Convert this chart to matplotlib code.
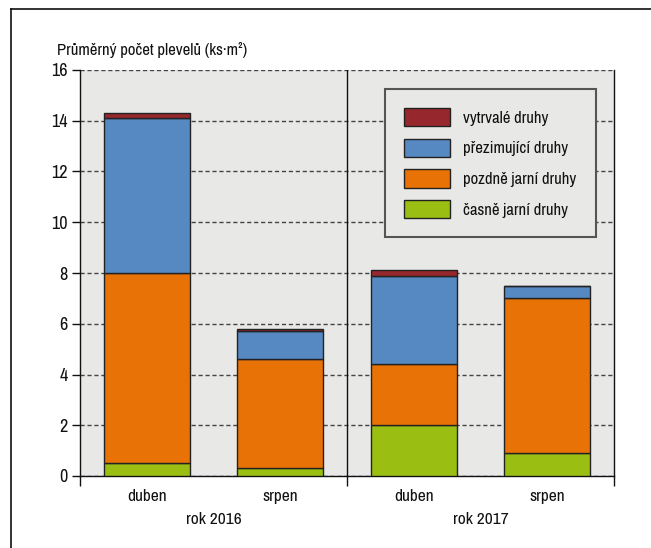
import matplotlib.pyplot as plt
import numpy as np
from matplotlib.lines import Line2D

# ---------------------------------------------------------------------------- #
# DATA
# ---------------------------------------------------------------------------- #
months = ["duben", "srpen", "duben", "srpen"]
years = ["rok 2016", "rok 2017"]

casne = [0.5, 0.3, 2.0, 0.9]
pozdne = [7.5, 4.3, 2.4, 6.1]
prezimujici = [6.1, 1.1, 3.5, 0.5]
vytrvale = [0.2, 0.1, 0.2, 0.0]

series = [
    ("časně jarní druhy", casne, "#9abf12"),
    ("pozdně jarní druhy", pozdne, "#e87206"),
    ("přezimující druhy", prezimujici, "#5689c2"),
    ("vytrvalé druhy", vytrvale, "#96282d"),
]

plt.rcParams["font.family"] = ["Archivo Narrow", "DejaVu Sans"]
plt.rcParams["font.size"] = 11.5
plt.rcParams["text.color"] = "#111111"

fig = plt.figure(figsize=(6.51, 5.48), dpi=100)
ax = fig.add_axes([80 / 651, 72 / 548, 534 / 651, 406 / 548])
ax.set_facecolor("#e8e8e7")

x = np.arange(len(months)) + 0.5
bottom = np.zeros(len(months))
for label, vals, colour in series:
    ax.bar(x, vals, width=0.645, bottom=bottom, color=colour,
           edgecolor="#222222", linewidth=1.0, label=label, zorder=3)
    bottom += np.array(vals)

ax.set_xlim(0, 4)
ax.set_ylim(0, 16)
ax.set_yticks(range(0, 17, 2))
ax.yaxis.grid(True, linestyle=(0, (3, 2)), color="#444444", linewidth=1.0)
ax.set_axisbelow(True)
ax.axvline(2, color="#111111", linewidth=1.0, zorder=4)

ax.set_xticks([0, 2, 4])
ax.set_xticklabels([])
ax.tick_params(axis="x", direction="out", length=7, width=1, colors="#111111")
ax.tick_params(axis="y", direction="out", length=6, width=1, labelsize=13,
               pad=3, colors="#111111")
ax.spines["top"].set_visible(False)
for s in ("left", "right", "bottom"):
    ax.spines[s].set_color("#111111")
    ax.spines[s].set_linewidth(1.0)

for xi, m in zip(x, months):
    ax.text(xi, -0.5, m, ha="center", va="top", fontsize=12.5)
for i, yr in enumerate(years):
    ax.text(1 + 2 * i, -1.4, yr, ha="center", va="top", fontsize=12.5)

fig.text(57 / 651, 1 - 50 / 548, "Průměrný počet plevelů (ks·m²)",
         ha="left", va="center", fontsize=12)

handles, labels = ax.get_legend_handles_labels()
leg = ax.legend(handles[::-1], labels[::-1], loc="upper left",
                bbox_to_anchor=((385 - 80) / 534, 1 - (91 - 72) / 406),
                frameon=True, fontsize=12, handlelength=2.75, handleheight=1.3,
                handletextpad=0.8, labelspacing=0.75, borderpad=1.15,
                borderaxespad=0)
frame = leg.get_frame()
frame.set_facecolor("#e8e8e7")
frame.set_edgecolor("#555555")
frame.set_linewidth(1.5)
frame.set_boxstyle("square", pad=0)
frame.set_alpha(1)
leg.set_zorder(5)

# frame lines along the left and top of the figure
fig.add_artist(Line2D([11 / 651, 11 / 651], [0, 1 - 9 / 548],
                      color="#111111", linewidth=1.2))
fig.add_artist(Line2D([11 / 651, 1], [1 - 9 / 548, 1 - 9 / 548],
                      color="#111111", linewidth=1.2))

fig.savefig("out.png", dpi=100)
